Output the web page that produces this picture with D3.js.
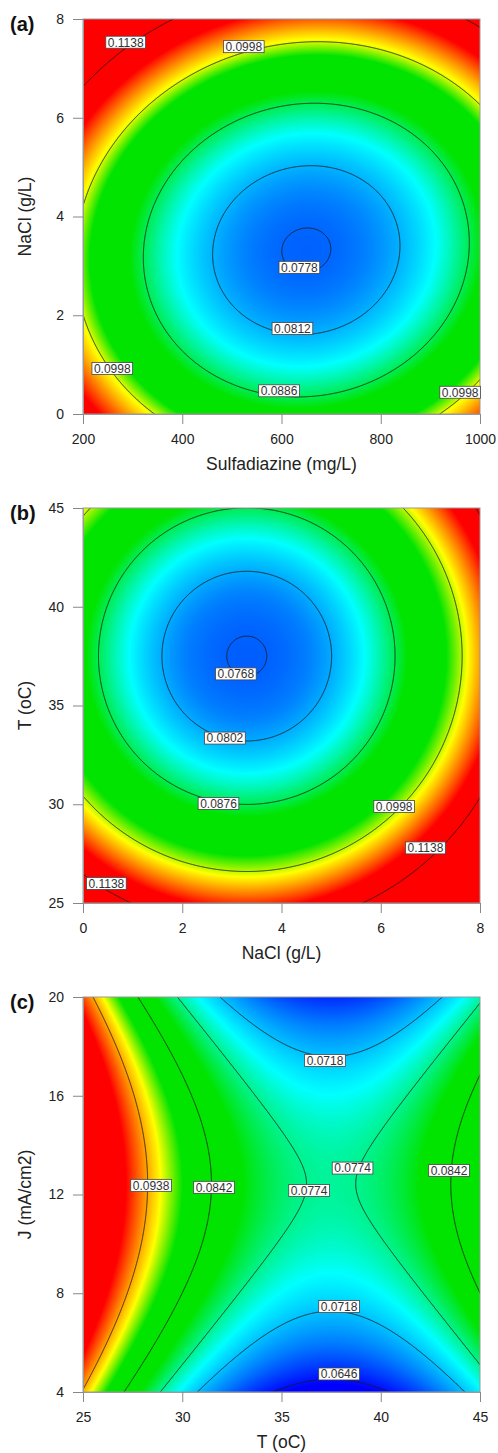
<!DOCTYPE html>
<html>
<head>
<meta charset="utf-8">
<script src="https://cdn.jsdelivr.net/npm/d3@7"></script>
<style>
  body { margin: 0; background: #fff; }
  text { font-family: "Liberation Sans", Arial, sans-serif; }
</style>
</head>
<body>
<div id="chart"></div>
<script>
// ---- data ----

// (a) Sulfadiazine vs NaCl
var xDomainA = [200, 1000];
var yDomainA = [0, 8];
var xTicksA = [200, 400, 600, 800, 1000];
var yTicksA = [0, 2, 4, 6, 8];
var levelsA = [0.0778, 0.0812, 0.0886, 0.0998, 0.1138];
// quadratic response model around the stationary point, coded units:
// [value at stationary point, b11, b22, b12]
var stationA = [650, 3.32];
var coefA = [0.07755, 0.01643, 0.02004, -0.00184];
var colorStopsA = [0.0730, 0.0790, 0.0845, 0.0905, 0.0970, 0.1003, 0.1075];
// contour label: [level, x, y]
var labelsA = [[0.1138, 286, 7.53], [0.0998, 524, 7.44], [0.0778, 636, 2.97],
               [0.0812, 622, 1.73], [0.0998, 259, 0.92], [0.0886, 595, 0.47],
               [0.0998, 960, 0.44]];

// (b) NaCl vs T
var xDomainB = [0, 8];
var yDomainB = [25, 45];
var xTicksB = [0, 2, 4, 6, 8];
var yTicksB = [25, 30, 35, 40, 45];
var levelsB = [0.0768, 0.0802, 0.0876, 0.0998, 0.1138];
var stationB = [3.3, 37.5];
var coefB = [0.0766, 0.01971, 0.01951, 0];
var colorStopsB = [0.0715, 0.0785, 0.0835, 0.0895, 0.0965, 0.1010, 0.1085];
var labelsB = [[0.0768, 3.08, 36.6], [0.0802, 2.86, 33.35], [0.0876, 2.73, 30.04],
               [0.0998, 6.27, 29.89], [0.1138, 6.90, 27.79], [0.1138, 0.47, 25.99]];

// (c) T vs J
var xDomainC = [25, 45];
var yDomainC = [4, 20];
var xTicksC = [25, 30, 35, 40, 45];
var yTicksC = [4, 8, 12, 16, 20];
var levelsC = [0.0646, 0.0718, 0.0774, 0.0842, 0.0938];
var stationC = [37.5, 12.43];
var coefC = [0.0771, 0.01954, -0.01276, 0];
var colorStopsC = [0.0640, 0.0690, 0.0745, 0.0810, 0.0880, 0.0915, 0.0980];
var labelsC = [[0.0718, 37.19, 17.43], [0.0938, 28.43, 12.37], [0.0842, 31.6, 12.29],
               [0.0774, 36.39, 12.16], [0.0774, 38.58, 13.07], [0.0842, 43.44, 12.97],
               [0.0718, 37.9, 7.46], [0.0646, 37.9, 4.73]];

var palette = ["#0000ff", "#0080ff", "#00ffff", "#00e400", "#00e400", "#ffff00", "#ff0000"];

// ---- layout ----
var width = 498, height = 1453;
var left = 83, right = 480, plotH = 395;

var svg = d3.select("#chart").append("svg")
    .attr("width", width).attr("height", height);

var panels = [
    { tag: "(a)", top: 19, xd: xDomainA, yd: yDomainA, xt: xTicksA, yt: yTicksA, levels: levelsA,
      station: stationA, coef: coefA, stops: colorStopsA, labels: labelsA,
      xTitle: "Sulfadiazine (mg/L)", yTitle: "NaCl (g/L)" },
    { tag: "(b)", top: 508, xd: xDomainB, yd: yDomainB, xt: xTicksB, yt: yTicksB, levels: levelsB,
      station: stationB, coef: coefB, stops: colorStopsB, labels: labelsB,
      xTitle: "NaCl (g/L)", yTitle: "T (oC)" },
    { tag: "(c)", top: 997, xd: xDomainC, yd: yDomainC, xt: xTicksC, yt: yTicksC, levels: levelsC,
      station: stationC, coef: coefC, stops: colorStopsC, labels: labelsC,
      xTitle: "T (oC)", yTitle: "J (mA/cm2)" }
];

panels.forEach(function (p, idx) { drawPanel(p, idx); });

function drawPanel(p, idx) {
    var top = p.top, bottom = top + plotH;
    var pw = right - left, ph = plotH;
    var x = d3.scaleLinear().domain(p.xd).range([left, right]);
    var y = d3.scaleLinear().domain(p.yd).range([bottom, top]);
    var hx = (p.xd[1] - p.xd[0]) / 2, hy = (p.yd[1] - p.yd[0]) / 2;

    function model(X, Y) {
        var u = (X - p.station[0]) / hx, v = (Y - p.station[1]) / hy;
        return p.coef[0] + p.coef[1] * u * u + p.coef[2] * v * v + p.coef[3] * u * v;
    }
    var color = d3.scaleLinear().domain(p.stops).range(palette)
        .interpolate(d3.interpolateRgb).clamp(true);

    var g = svg.append("g");

    // colour surface
    var canvas = document.createElement("canvas");
    canvas.width = pw; canvas.height = ph;
    var ctx = canvas.getContext("2d");
    var img = ctx.createImageData(pw, ph);
    for (var j = 0; j < ph; j++) {
        var Y = y.invert(top + j + 0.5);
        for (var i = 0; i < pw; i++) {
            var c = d3.rgb(color(model(x.invert(left + i + 0.5), Y)));
            var k = (j * pw + i) * 4;
            img.data[k] = c.r; img.data[k + 1] = c.g; img.data[k + 2] = c.b; img.data[k + 3] = 255;
        }
    }
    ctx.putImageData(img, 0, 0);
    g.append("image").attr("href", canvas.toDataURL())
        .attr("x", left).attr("y", top).attr("width", pw).attr("height", ph)
        .attr("preserveAspectRatio", "none");

    // contour lines (grid runs past the frame so the edge segments get clipped)
    var pad = 6;
    var n = pw + 2 * pad, m = ph + 2 * pad;
    var gx0 = left - pad, gy0 = top - pad;
    var values = new Float64Array(n * m);
    for (var jj = 0; jj < m; jj++) {
        var YY = y.invert(gy0 + jj + 0.5);
        for (var ii = 0; ii < n; ii++) values[jj * n + ii] = model(x.invert(gx0 + ii + 0.5), YY);
    }
    var contours = d3.contours().size([n, m]).thresholds(p.levels)(values);
    var path = d3.geoPath(d3.geoTransform({
        point: function (px, py) { this.stream.point(gx0 + px, gy0 + py); }
    }));
    var clipId = "clip" + idx;
    svg.append("clipPath").attr("id", clipId)
        .append("rect").attr("x", left).attr("y", top).attr("width", pw).attr("height", ph);
    g.append("g").attr("clip-path", "url(#" + clipId + ")")
        .selectAll("path").data(contours).join("path")
        .attr("d", path)
        .attr("fill", "none")
        .attr("stroke", "#1a1a1a")
        .attr("stroke-opacity", 0.85)
        .attr("stroke-width", 1);

    // frame
    g.append("rect").attr("x", left).attr("y", top).attr("width", pw).attr("height", ph)
        .attr("fill", "none").attr("stroke", "#999").attr("stroke-width", 1);

    // contour labels
    var fmt = d3.format(".4f");
    var lab = g.append("g").selectAll("g").data(p.labels).join("g")
        .attr("transform", function (d) { return "translate(" + x(d[1]) + "," + y(d[2]) + ")"; });
    lab.append("rect").attr("fill", "#fff").attr("stroke", "#444").attr("stroke-width", 0.8);
    lab.append("text").text(function (d) { return fmt(d[0]); })
        .attr("text-anchor", "middle").attr("dy", "0.36em")
        .attr("font-size", 12).attr("fill", "#333");
    lab.each(function () {
        var t = d3.select(this).select("text").node().getComputedTextLength();
        d3.select(this).select("rect")
            .attr("x", -t / 2 - 2).attr("y", -6).attr("width", t + 4).attr("height", 12);
    });

    // axes
    var xAxis = g.append("g").attr("transform", "translate(0," + bottom + ")")
        .call(d3.axisBottom(x).tickValues(p.xt).tickFormat(d3.format("d"))
            .tickSize(10).tickSizeOuter(0).tickPadding(10));
    var yAxis = g.append("g").attr("transform", "translate(" + left + ",0)")
        .call(d3.axisLeft(y).tickValues(p.yt).tickFormat(d3.format("d"))
            .tickSize(10).tickSizeOuter(0).tickPadding(9));
    [xAxis, yAxis].forEach(function (a) {
        a.select(".domain").attr("stroke", "#999");
        a.selectAll(".tick line").attr("stroke", "#888");
        a.selectAll(".tick text").attr("font-size", 14).attr("fill", "#222")
            .attr("font-family", "Liberation Sans, Arial, sans-serif");
    });

    // titles
    g.append("text").attr("x", (left + right) / 2).attr("y", bottom + 55.5)
        .attr("text-anchor", "middle").attr("font-size", 17.5).attr("fill", "#222")
        .text(p.xTitle);
    g.append("text")
        .attr("transform", "translate(30.5," + (top + bottom) / 2 + ") rotate(-90)")
        .attr("text-anchor", "middle").attr("font-size", 17.5).attr("fill", "#222")
        .text(p.yTitle);
    g.append("text").attr("x", 10).attr("y", top + 11.5)
        .attr("font-size", 20).attr("font-weight", "bold").attr("fill", "#111")
        .text(p.tag);
}
</script>
</body>
</html>
